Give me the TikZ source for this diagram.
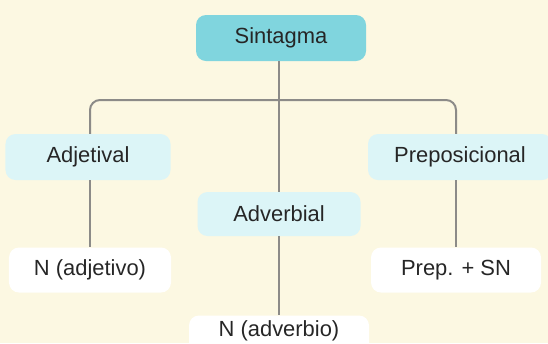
\documentclass[tikz,border=0pt]{standalone}
\usepackage{fontspec}
\setmainfont{Liberation Sans}
\definecolor{bgcream}{HTML}{FCF8E2}
\definecolor{teal1}{HTML}{80D5DE}
\definecolor{cyan1}{HTML}{DCF5F7}
\definecolor{linegray}{HTML}{8C8B88}
\definecolor{txt}{HTML}{262626}
\begin{document}
\begin{tikzpicture}[x=1bp,y=-1bp,
  box/.style={rounded corners=10bp, minimum height=46bp, inner sep=0pt,
    font=\fontsize{22}{26}\selectfont, text=txt},
  topbox/.style={box, fill=teal1},
  midbox/.style={box, fill=cyan1},
  leafbox/.style={box, fill=white},
  conn/.style={draw=linegray, line width=2bp}]
\fill[bgcream] (0,0) rectangle (548,343);
\useasboundingbox (0,0) rectangle (548,343);
\coordinate (hl) at (90,100);
\coordinate (hr) at (456,100);
\node[topbox, minimum width=170bp] (sin) at (281,38) {Sintagma};
\node[midbox, minimum width=165bp] (adj) at (88,157) {Adjetival};
\node[midbox, minimum width=184bp] (pre) at (460,157) {Preposicional};
\node[midbox, minimum width=163bp, minimum height=44bp] (adv) at (279,214) {Adverbial};
\node[leafbox, minimum width=162bp, minimum height=45bp] (nadj) at (90,270) {N (adjetivo)};
\node[leafbox, minimum width=170bp, minimum height=45bp] (psn) at (456,270) {Prep. + SN};
\node[leafbox, minimum width=180bp, minimum height=45bp] (nadv) at (279,338) {};
\node[box, anchor=base] (nadvt) at (279,336) {N (adverbio)};
\draw[conn] (sin.south -| adv.north) -- (adv.north);
\draw[conn, rounded corners=10bp] (adj.north -| hl) |- (hr) -- (pre.north -| hr);
\draw[conn] (adj.south -| hl) -- (nadj.north -| hl);
\draw[conn] (pre.south -| hr) -- (psn.north -| hr);
\draw[conn] (adv.south) -- (nadv.north);
\end{tikzpicture}
\end{document}
